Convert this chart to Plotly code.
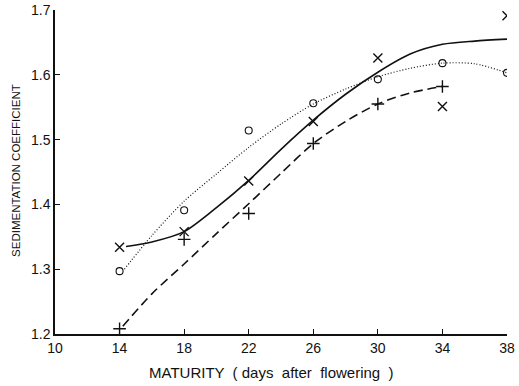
import plotly.graph_objects as go

# Measured sedimentation coefficients by seed maturity (days after flowering)
days = [14, 18, 22, 26, 30, 34, 38]
s_cross = [1.334, 1.358, 1.436, 1.528, 1.626, 1.551, 1.691]
s_circle = [1.297, 1.391, 1.514, 1.556, 1.593, 1.618, 1.603]
days_plus = [14, 18, 22, 26, 30, 34]
s_plus = [1.208, 1.346, 1.386, 1.494, 1.555, 1.582]

# Hand-fitted trend curves
solid_days = [14.4, 16, 18, 20, 22, 24, 26, 28, 30, 32, 34, 36, 38]
solid_vals = [1.335, 1.342, 1.358, 1.395, 1.437, 1.485, 1.530, 1.570, 1.604, 1.632, 1.647, 1.652, 1.655]
dotted_days = [14.3, 16, 18, 20, 22, 24, 26, 28, 30, 32, 34, 36, 38]
dotted_vals = [1.300, 1.352, 1.405, 1.447, 1.488, 1.524, 1.555, 1.578, 1.597, 1.610, 1.618, 1.617, 1.603]
dashed_days = [14.2, 16, 18, 20, 22, 24, 26, 28, 30, 32, 34]
dashed_vals = [1.212, 1.262, 1.308, 1.355, 1.401, 1.448, 1.494, 1.528, 1.555, 1.572, 1.582]

x_ticks = [10, 14, 18, 22, 26, 30, 34, 38]
y_ticks = [1.2, 1.3, 1.4, 1.5, 1.6, 1.7]

ink = "#111111"
fig = go.Figure()

fig.add_trace(go.Scatter(x=solid_days, y=solid_vals, mode="lines",
                         line=dict(color=ink, width=1.6, shape="spline", smoothing=0.8)))
fig.add_trace(go.Scatter(x=dotted_days, y=dotted_vals, mode="lines",
                         line=dict(color=ink, width=1.2, dash="1px,2px", shape="spline", smoothing=0.8)))
fig.add_trace(go.Scatter(x=dashed_days, y=dashed_vals, mode="lines",
                         line=dict(color=ink, width=1.6, dash="9px,5px", shape="spline", smoothing=0.8)))

fig.add_trace(go.Scatter(x=days, y=s_cross, mode="markers",
                         marker=dict(symbol="x-thin-open", size=9, color=ink,
                                     line=dict(color=ink, width=1.4))))
fig.add_trace(go.Scatter(x=days, y=s_circle, mode="markers",
                         marker=dict(symbol="circle-open", size=7, color=ink,
                                     line=dict(color=ink, width=1.1))))
fig.add_trace(go.Scatter(x=days_plus, y=s_plus, mode="markers",
                         marker=dict(symbol="cross-thin-open", size=9, color=ink,
                                     line=dict(color=ink, width=1.4))))

fig.update_layout(
    width=519, height=386,
    margin=dict(l=55, r=12, t=10, b=52),
    paper_bgcolor="white", plot_bgcolor="white",
    showlegend=False,
    font=dict(family="Liberation Sans, Arial, sans-serif", color=ink, size=13),
    xaxis=dict(range=[10, 38], tickvals=x_ticks, ticktext=[str(v) for v in x_ticks],
               showgrid=False, zeroline=False, showline=True, linecolor=ink, linewidth=1.5,
               ticks="inside", ticklen=5, tickwidth=1.3, tickcolor=ink,
               tickfont=dict(size=14), automargin=False),
    yaxis=dict(range=[1.2, 1.7], tickvals=y_ticks, ticktext=[f"{v:.1f}" for v in y_ticks],
               showgrid=False, zeroline=False, showline=True, linecolor=ink, linewidth=1.5,
               ticks="inside", ticklen=5, tickwidth=1.3, tickcolor=ink,
               tickfont=dict(size=14), automargin=False),
    annotations=[
        dict(text="SEDIMENTATION COEFFICIENT", textangle=-90,
             xref="paper", yref="paper", x=-0.085, y=0.505,
             xanchor="center", yanchor="middle", showarrow=False,
             font=dict(size=11.5)),
        dict(text="MATURITY  ( days  after  flowering  )",
             xref="paper", yref="paper", x=0.478, y=-0.12,
             xanchor="center", yanchor="middle", showarrow=False,
             font=dict(size=15)),
    ],
)

fig.write_html("out.html")
